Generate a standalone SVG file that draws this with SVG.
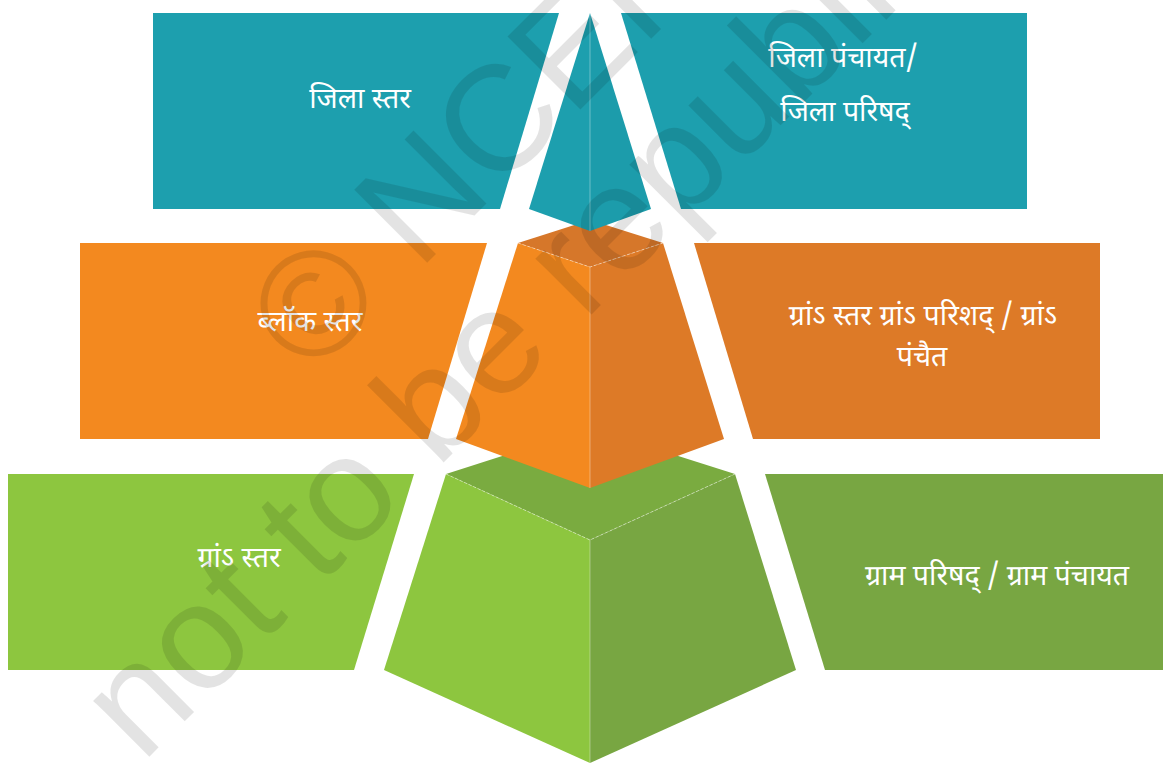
<svg xmlns="http://www.w3.org/2000/svg" width="1163" height="763" viewBox="0 0 1163 763">
<style>
.lbl{font-family:"Noto Sans Devanagari","Noto Sans","Liberation Sans",sans-serif;font-size:28.5px;fill:#ffffff;text-anchor:middle}
.teal{fill:#1d9fae}.tealR{fill:#1c9cab}
.orL{fill:#f3891f}.orR{fill:#dd7a27}.orT{fill:#d6772a}
.grL{fill:#8dc63f}.grR{fill:#78a642}.grT{fill:#7aab40}
.edge{stroke:#ffffff;stroke-opacity:0.35;stroke-width:1;fill:none}
.dash{stroke:#ffffff;stroke-opacity:0.45;stroke-width:1;stroke-dasharray:3 2;fill:none}
.wm{font-family:"Liberation Sans",Arial,sans-serif;font-size:150px;fill:#000000;fill-opacity:0.11}
</style>
<rect width="1163" height="763" fill="#ffffff"/>
<g id="tier-bottom">
<polygon class="grT" points="446,474 590,428 735,474 590,540"/>
<polygon class="grL" points="446,474 590,540 590,763 384,670"/>
<polygon class="grR" points="590,540 735,474 796,670 590,763"/>
<line class="edge" x1="590" y1="540" x2="590" y2="763"/>
<polyline class="dash" points="446,474 590,540 735,474"/>
</g>
<g id="tier-middle">
<polygon class="orT" points="518,243 590,220 663,243 590,267"/>
<polygon class="orL" points="518,243 590,267 590,488 456,439"/>
<polygon class="orR" points="590,267 663,243 724,439 590,488"/>
<line class="edge" x1="590" y1="267" x2="590" y2="488"/>
<polyline class="dash" points="518,243 590,267 663,243"/>
</g>
<g id="tier-top">
<polygon class="teal" points="590,13 590,231 529,209"/>
<polygon class="tealR" points="590,13 651,209 590,231"/>
<line class="edge" x1="590" y1="13" x2="590" y2="231"/>
</g>
<g id="zila-star">
<polygon class="teal" points="153,13 559,13 500,209 153,209"/>
<text class="lbl" x="360" y="108">जिला स्तर</text>
</g>
<g id="zila-panchayat">
<polygon class="teal" points="621,13 1027,13 1027,209 681,209"/>
<text class="lbl" x="843" y="67">जिला पंचायत/</text>
<text class="lbl" x="845" y="121">जिला परिषद्</text>
</g>
<g id="block-star">
<polygon class="orL" points="80,243 487,243 428,439 80,439"/>
<text class="lbl" x="310" y="331">ब्लॉक स्तर</text>
</g>
<g id="block-samiti">
<polygon class="orR" points="694,243 1100,243 1100,439 753,439"/>
<text class="lbl" x="923" y="325">ग्रांऽ स्तर ग्रांऽ परिशद् / ग्रांऽ</text>
<text class="lbl" x="922" y="366">पंचैत</text>
</g>
<g id="gram-star">
<polygon class="grL" points="8,474 414,474 354,670 8,670"/>
<text class="lbl" x="239" y="567">ग्रांऽ स्तर</text>
</g>
<g id="gram-panchayat">
<polygon class="grR" points="765,474 1163,474 1163,670 825,670"/>
<text class="lbl" x="997" y="585">ग्राम परिषद् / ग्राम पंचायत</text>
</g>
<g id="watermark">
<text class="wm" transform="translate(311,379) rotate(-45)">© NCERT</text>
<text class="wm" transform="translate(142,764) rotate(-45)">not to be republished</text>
</g>
</svg>
